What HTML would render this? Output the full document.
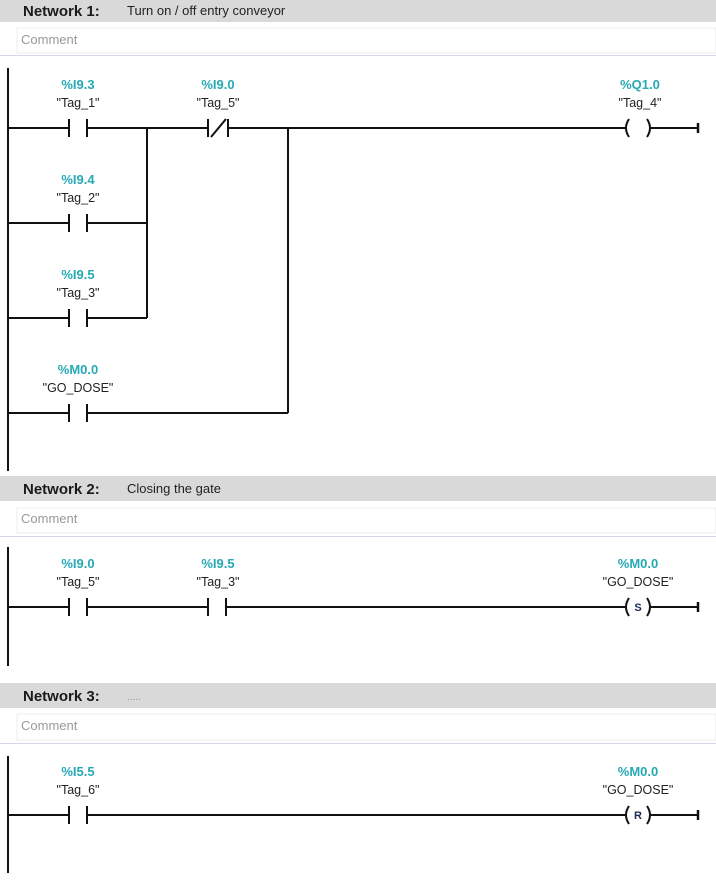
<!DOCTYPE html>
<html><head><meta charset="utf-8">
<style>
html,body{margin:0;padding:0;background:#fff;width:716px;height:888px;overflow:hidden}
svg{display:block}
.h{font-family:"Liberation Sans",sans-serif;font-weight:bold;font-size:15px;fill:#1a1a1a}
.d{font-family:"Liberation Sans",sans-serif;font-size:13px;fill:#222}
.c{font-family:"Liberation Sans",sans-serif;font-size:13px;fill:#999}
.a{font-family:"Liberation Sans",sans-serif;font-weight:bold;font-size:13px;fill:#26a9b5}
.t{font-family:"Liberation Sans",sans-serif;font-size:12.5px;fill:#222}
.l{stroke:#111;stroke-width:2;fill:none}
.sl{font-family:"Liberation Sans",sans-serif;font-weight:bold;font-size:11px;fill:#1a2a5a}
</style></head><body>
<svg width="716" height="888" viewBox="0 0 716 888" xmlns="http://www.w3.org/2000/svg">
<!-- Network 1 header -->
<rect x="0" y="0" width="716" height="22" fill="#d9d9d9"/>
<text class="h" x="23" y="16">Network 1:</text>
<text class="d" x="127" y="15">Turn on / off entry conveyor</text>
<rect x="17" y="28" width="699" height="25" fill="#fff" stroke="#ececec"/>
<text class="c" x="21" y="44">Comment</text>
<line x1="0" y1="55.5" x2="716" y2="55.5" stroke="#d6d6ea"/>

<!-- Network 2 header -->
<rect x="0" y="476" width="716" height="25" fill="#d9d9d9"/>
<text class="h" x="23" y="494">Network 2:</text>
<text class="d" x="127" y="493">Closing the gate</text>
<rect x="17" y="508" width="699" height="25" fill="#fff" stroke="#ececec"/>
<text class="c" x="21" y="523">Comment</text>
<line x1="0" y1="536.5" x2="716" y2="536.5" stroke="#d6d6ea"/>

<!-- Network 3 header -->
<rect x="0" y="683" width="716" height="25" fill="#d9d9d9"/>
<text class="h" x="23" y="701">Network 3:</text>
<text class="c" x="127" y="700" style="font-size:10px">.....</text>
<rect x="17" y="714" width="699" height="26" fill="#fff" stroke="#ececec"/>
<text class="c" x="21" y="730">Comment</text>
<line x1="0" y1="743.5" x2="716" y2="743.5" stroke="#d6d6ea"/>

<!-- ===== Network 1 ladder ===== -->
<line class="l" x1="8" y1="68" x2="8" y2="471"/>
<!-- rung 1 -->
<path class="l" d="M8 128H69M87 128H208M228 128H626M650 128H698"/>
<path class="l" d="M69 119V137M87 119V137"/>
<path class="l" d="M208 119V137M228 119V137M211 137L226 119"/>
<path class="l" d="M629 119Q623 128 629 137M647 119Q653 128 647 137"/>
<line x1="698" y1="123" x2="698" y2="133" stroke="#111" stroke-width="2.5"/>
<!-- branches -->
<path class="l" d="M147 128V318M288 128V413"/>
<path class="l" d="M8 223H69M87 223H147M69 214V232M87 214V232"/>
<path class="l" d="M8 318H69M87 318H147M69 309V327M87 309V327"/>
<path class="l" d="M8 413H69M87 413H288M69 404V422M87 404V422"/>
<!-- labels -->
<text class="a" x="78" y="89" text-anchor="middle">%I9.3</text>
<text class="t" x="78" y="107" text-anchor="middle">"Tag_1"</text>
<text class="a" x="218" y="89" text-anchor="middle">%I9.0</text>
<text class="t" x="218" y="107" text-anchor="middle">"Tag_5"</text>
<text class="a" x="640" y="89" text-anchor="middle">%Q1.0</text>
<text class="t" x="640" y="107" text-anchor="middle">"Tag_4"</text>
<text class="a" x="78" y="184" text-anchor="middle">%I9.4</text>
<text class="t" x="78" y="202" text-anchor="middle">"Tag_2"</text>
<text class="a" x="78" y="279" text-anchor="middle">%I9.5</text>
<text class="t" x="78" y="297" text-anchor="middle">"Tag_3"</text>
<text class="a" x="78" y="374" text-anchor="middle">%M0.0</text>
<text class="t" x="78" y="392" text-anchor="middle">"GO_DOSE"</text>

<!-- ===== Network 2 ladder ===== -->
<line class="l" x1="8" y1="547" x2="8" y2="666"/>
<path class="l" d="M8 607H69M87 607H208M226 607H626M650 607H698"/>
<path class="l" d="M69 598V616M87 598V616M208 598V616M226 598V616"/>
<path class="l" d="M629 598Q623 607 629 616M647 598Q653 607 647 616"/>
<line x1="698" y1="602" x2="698" y2="612" stroke="#111" stroke-width="2.5"/>
<text class="sl" x="638" y="611" text-anchor="middle">S</text>
<text class="a" x="78" y="568" text-anchor="middle">%I9.0</text>
<text class="t" x="78" y="586" text-anchor="middle">"Tag_5"</text>
<text class="a" x="218" y="568" text-anchor="middle">%I9.5</text>
<text class="t" x="218" y="586" text-anchor="middle">"Tag_3"</text>
<text class="a" x="638" y="568" text-anchor="middle">%M0.0</text>
<text class="t" x="638" y="586" text-anchor="middle">"GO_DOSE"</text>

<!-- ===== Network 3 ladder ===== -->
<line class="l" x1="8" y1="756" x2="8" y2="873"/>
<path class="l" d="M8 815H69M87 815H626M650 815H698"/>
<path class="l" d="M69 806V824M87 806V824"/>
<path class="l" d="M629 806Q623 815 629 824M647 806Q653 815 647 824"/>
<line x1="698" y1="810" x2="698" y2="820" stroke="#111" stroke-width="2.5"/>
<text class="sl" x="638" y="819" text-anchor="middle">R</text>
<text class="a" x="78" y="776" text-anchor="middle">%I5.5</text>
<text class="t" x="78" y="794" text-anchor="middle">"Tag_6"</text>
<text class="a" x="638" y="776" text-anchor="middle">%M0.0</text>
<text class="t" x="638" y="794" text-anchor="middle">"GO_DOSE"</text>
</svg>
</body></html>
